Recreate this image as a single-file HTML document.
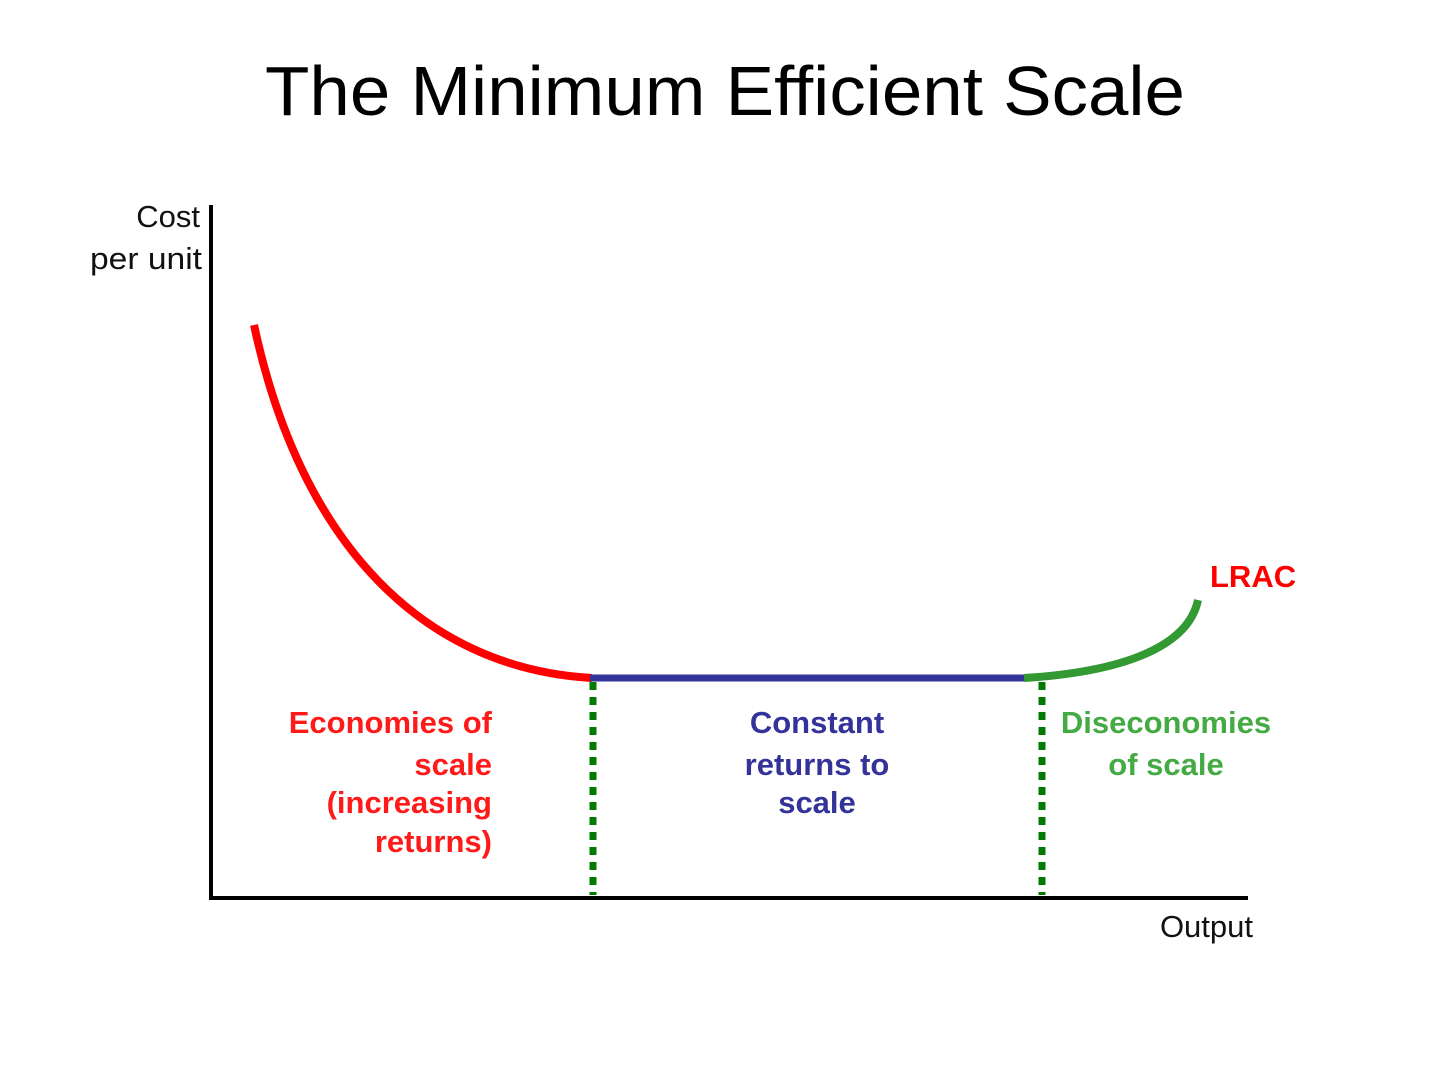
<!DOCTYPE html>
<html><head><meta charset="utf-8"><style>
html,body{margin:0;padding:0;background:#fff;}
svg{display:block;}
text{font-family:"Liberation Sans",sans-serif;}
</style></head><body>
<svg width="1440" height="1074" viewBox="0 0 1440 1074">
<text x="725" y="115" font-size="70" text-anchor="middle" textLength="920" lengthAdjust="spacingAndGlyphs" fill="#000">The Minimum Efficient Scale</text>
<line x1="211" y1="205" x2="211" y2="900" stroke="#000" stroke-width="4"/>
<line x1="209" y1="898" x2="1248" y2="898" stroke="#000" stroke-width="4"/>
<text x="200" y="227" font-size="31" text-anchor="end" fill="#111">Cost</text>
<text x="202" y="269" font-size="31" text-anchor="end" fill="#111" textLength="112" lengthAdjust="spacingAndGlyphs">per unit</text>
<text x="1253" y="937" font-size="31" text-anchor="end" fill="#111">Output</text>
<line x1="593" y1="682" x2="593" y2="895" stroke="#007a00" stroke-width="7" stroke-dasharray="8,7"/>
<line x1="1042" y1="682" x2="1042" y2="895" stroke="#007a00" stroke-width="7" stroke-dasharray="8,7"/>
<path d="M254,325 C300,540 420,668 592,678" fill="none" stroke="#ff0000" stroke-width="8"/>
<line x1="590" y1="678" x2="1026" y2="678" stroke="#333399" stroke-width="7"/>
<path d="M1024,678 C1120,672 1188,648 1198,600" fill="none" stroke="#339933" stroke-width="8"/>
<text x="1210" y="587" font-size="31" font-weight="bold" fill="#ff0000">LRAC</text>
<g font-size="31" font-weight="bold" fill="#ff1a1a" text-anchor="end">
<text x="492" y="733">Economies of</text>
<text x="492" y="775">scale</text>
<text x="492" y="813">(increasing</text>
<text x="492" y="852">returns)</text>
</g>
<g font-size="31" font-weight="bold" fill="#333399" text-anchor="middle">
<text x="817" y="733">Constant</text>
<text x="817" y="775">returns to</text>
<text x="817" y="813">scale</text>
</g>
<g font-size="31" font-weight="bold" fill="#44aa44" text-anchor="middle">
<text x="1166" y="733">Diseconomies</text>
<text x="1166" y="775">of scale</text>
</g>
</svg>
</body></html>
